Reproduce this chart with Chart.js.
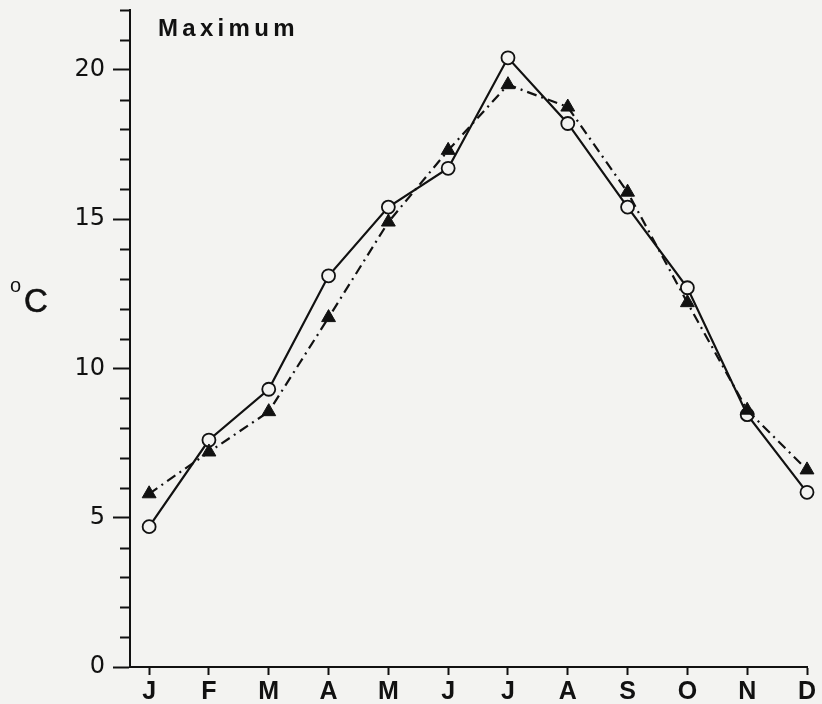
<!DOCTYPE html>
<html>
<head>
<meta charset="utf-8">
<script src="https://cdn.jsdelivr.net/npm/chart.js@4/dist/chart.umd.min.js"></script>
<style>
  html, body { margin: 0; padding: 0; background: #f3f3f1; }
  #wrap { position: relative; width: 822px; height: 704px; }
  canvas { position: absolute; left: 0; top: 0; }
  .lbl { position: absolute; font-family: 'Liberation Sans', Arial, sans-serif; color: #111; white-space: nowrap; }
  #title { left: 158px; top: 16px; font-size: 24px; line-height: 24px; font-weight: bold; letter-spacing: 4.3px; }
  #unitO { left: 10px; top: 275px; font-size: 20px; line-height: 20px; }
  #unitC { left: 24px; top: 284px; font-size: 33px; line-height: 33px; -webkit-text-stroke: 0.6px #111; }
</style>
</head>
<body>
<div id="wrap">
  <canvas id="chart" width="822" height="704"></canvas>
  <div class="lbl" id="title">Maximum</div>
  <div class="lbl" id="unitO">o</div>
  <div class="lbl" id="unitC">C</div>
</div>
<script>
const months = ['J', 'F', 'M', 'A', 'M', 'J', 'J', 'A', 'S', 'O', 'N', 'D'];
// open circles, solid line
const seriesCircle = [4.7, 7.6, 9.3, 13.1, 15.4, 16.7, 20.4, 18.2, 15.4, 12.7, 8.45, 5.85];
// filled triangles, dash-dot line
const seriesTriangle = [5.8, 7.2, 8.55, 11.7, 14.9, 17.3, 19.5, 18.75, 15.9, 12.2, 8.6, 6.6];
const yLabelStep = 5;

const ink = '#111';
const paper = '#f3f3f1';

const toPoints = (arr) => arr.map((v, i) => ({ x: i, y: v }));

// short ticks for the values without a label
const minorTicks = {
  id: 'minorTicks',
  afterDraw(chart) {
    const y = chart.scales.y;
    const ctx = chart.ctx;
    ctx.save();
    ctx.strokeStyle = ink;
    ctx.lineWidth = 2;
    y.ticks.forEach(t => {
      if (t.value % yLabelStep === 0) return;
      const py = Math.round(y.getPixelForValue(t.value)) + 0.5;
      ctx.beginPath();
      ctx.moveTo(y.right - 10, py);
      ctx.lineTo(y.right, py);
      ctx.stroke();
    });
    ctx.restore();
  }
};

new Chart(document.getElementById('chart').getContext('2d'), {
  type: 'line',
  data: {
    datasets: [{
      label: 'circles',
      data: toPoints(seriesCircle),
      borderColor: ink,
      borderWidth: 2.2,
      pointStyle: 'circle',
      pointRadius: 6.5,
      pointBorderWidth: 1.8,
      pointBackgroundColor: paper,
      pointBorderColor: ink,
      clip: false,
      order: 2,
    }, {
      label: 'triangles',
      data: toPoints(seriesTriangle),
      borderColor: ink,
      borderWidth: 2.2,
      borderDash: [10, 5, 2, 5],
      pointStyle: 'triangle',
      pointRadius: 8,
      pointBorderWidth: 1,
      pointBackgroundColor: ink,
      pointBorderColor: ink,
      clip: false,
      order: 1,
    }]
  },
  options: {
    responsive: false,
    animation: false,
    devicePixelRatio: 1,
    layout: { padding: { top: 10, right: 15, bottom: 0, left: 0 } },
    plugins: {
      legend: { display: false },
      tooltip: { enabled: false },
    },
    scales: {
      x: {
        type: 'linear',
        min: -0.32,
        max: months.length - 1,
        afterBuildTicks: (scale) => {
          scale.ticks = months.map((m, i) => ({ value: i }));
        },
        afterFit: (scale) => { scale.height = 37; },
        grid: { drawOnChartArea: false, tickLength: 8, tickWidth: 2, tickColor: ink },
        border: { color: ink, width: 2 },
        ticks: {
          autoSkip: false,
          maxRotation: 0,
          padding: 2,
          color: ink,
          font: { family: "'Liberation Sans', Arial, sans-serif", size: 25, weight: 'bold' },
          callback: (v) => months[v],
        },
      },
      y: {
        min: 0,
        max: 22,
        afterFit: (scale) => {
          scale.width = 130;
          scale.paddingTop = 0;
          scale.paddingBottom = 0;
        },
        grid: {
          drawOnChartArea: false,
          tickLength: 17,
          tickWidth: 2,
          tickColor: (c) => (c.tick && c.tick.value % yLabelStep === 0) ? ink : 'rgba(0,0,0,0)',
        },
        border: { color: ink, width: 2 },
        ticks: {
          stepSize: 1,
          autoSkip: false,
          padding: 8,
          color: ink,
          font: { family: "'DejaVu Sans', sans-serif", size: 24 },
          callback: (v) => (v % yLabelStep === 0 ? String(v) : ''),
        },
      },
    },
  },
  plugins: [minorTicks],
});
</script>
</body>
</html>
